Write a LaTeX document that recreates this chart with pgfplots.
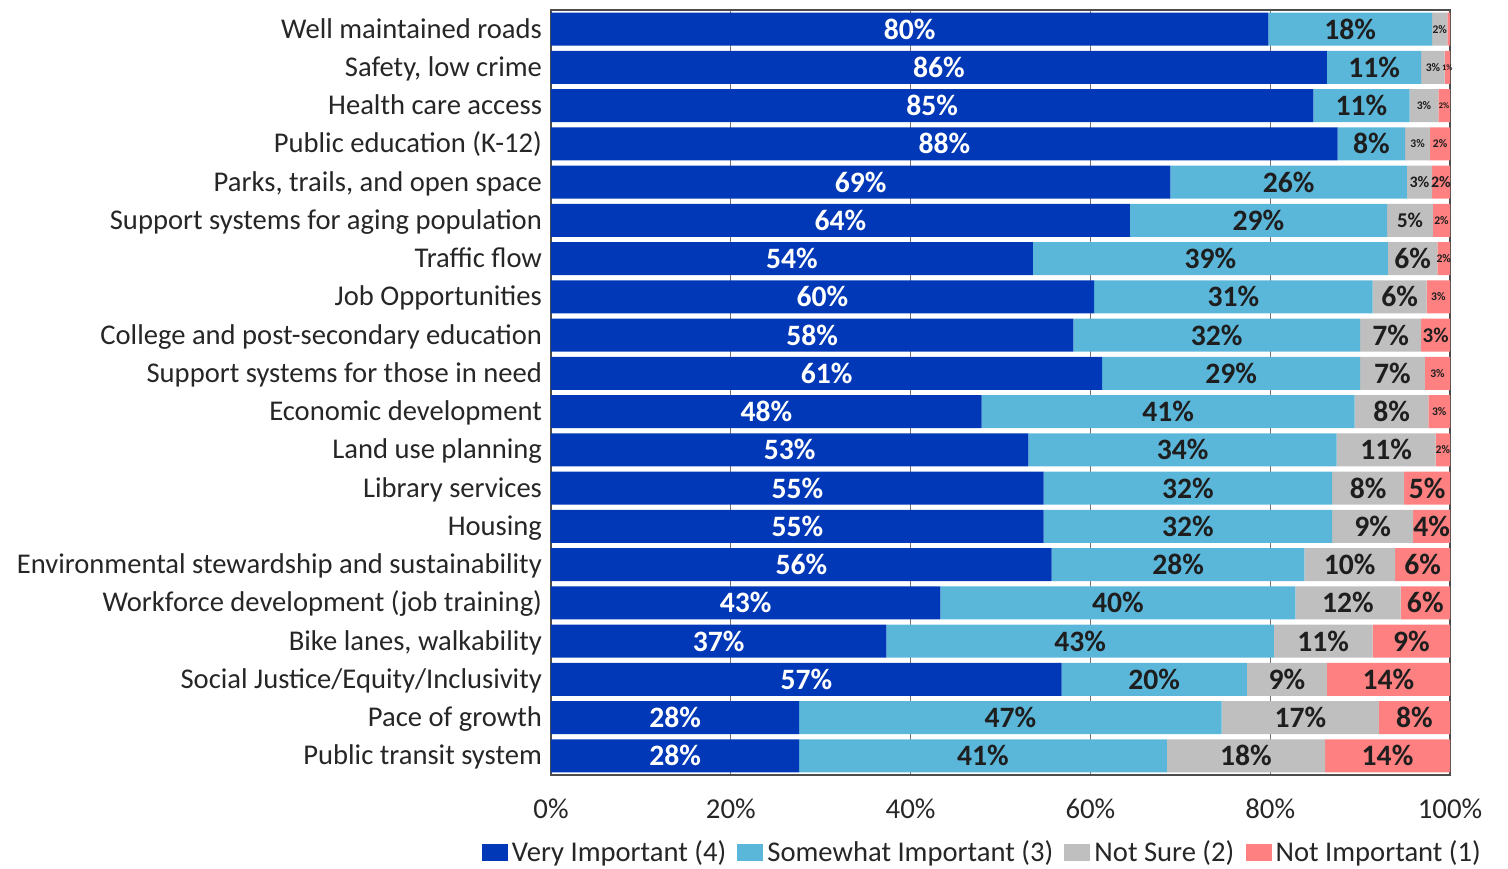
\documentclass[border=0pt]{standalone}
\usepackage{pgfplots}
\pgfplotsset{compat=1.18}
\usepackage{pgfplotstable}
\usepackage{fontspec}
\setmainfont{Carlito}
\usetikzlibrary{calc}
\definecolor{cA}{RGB}{0,56,184}
\definecolor{cB}{RGB}{91,183,218}
\definecolor{cC}{RGB}{191,191,191}
\definecolor{cD}{RGB}{255,128,128}
\definecolor{txt}{RGB}{30,30,30}
\newcommand\fn{\fontsize{14.8}{14.8}\selectfont}
\newcommand\fm{\fontsize{10.5}{10.5}\selectfont}
\newcommand\fs{\fontsize{8}{8}\selectfont}
\newcommand\ft{\fontsize{5.8}{5.8}\selectfont}
\newcommand\fu{\fontsize{4.2}{4.2}\selectfont}
\def\fh#1\%{}
\def\mylab#1{\expandafter\mylabi#1\relax}
\def\mylabi#1#2\relax{\csname f#1\endcsname #2\%}
\pgfplotstableread{
y a b c d la lb lc ld
0 79.8 18.2 1.7 0.3 n80 n18 t2 h0
1 86.3 10.5 2.6 0.6 n86 n11 t3 u1
2 84.8 10.7 3.2 1.3 n85 n11 t3 u2
3 87.5 7.5 2.8 2.2 n88 n8 t3 t2
4 68.9 26.3 2.8 2.0 n69 n26 s3 s2
5 64.4 28.6 5.1 1.9 n64 n29 m5 t2
6 53.6 39.5 5.5 1.4 n54 n39 n6 t2
7 60.4 31.0 6.0 2.6 n60 n31 n6 t3
8 58.1 31.9 6.8 3.2 n58 n32 n7 m3
9 61.3 28.7 7.2 2.8 n61 n29 n7 t3
10 47.9 41.5 8.2 2.4 n48 n41 n8 t3
11 53.1 34.3 11.0 1.6 n53 n34 n11 t2
12 54.8 32.1 8.0 5.1 n55 n32 n8 n5
13 54.8 32.1 9.0 4.1 n55 n32 n9 n4
14 55.7 28.1 10.1 6.1 n56 n28 n10 n6
15 43.3 39.5 11.7 5.5 n43 n40 n12 n6
16 37.3 43.1 11.0 8.6 n37 n43 n11 n9
17 56.8 20.6 8.9 13.7 n57 n20 n9 n14
18 27.6 47.0 17.5 7.9 n28 n47 n17 n8
19 27.6 40.9 17.6 13.9 n28 n41 n18 n14
}\data
\pgfplotsset{
  sq/.style={legend image code/.code={\fill[##1,draw=none] (0pt,-4.3pt) rectangle (13pt,4.3pt);}},
  seg/.style={draw=none, sq,
    point meta=explicit symbolic,
    nodes near coords={\mylab{\pgfplotspointmeta}},
    nodes near coords style={anchor=center, inner sep=0pt, font=\bfseries}},
}
\begin{document}
\begin{tikzpicture}
\begin{axis}[
  name=ax,
  xbar stacked,
  scale only axis,
  width=449.5pt, height=382.5pt,
  xmin=0, xmax=100,
  ymin=-0.5, ymax=19.5,
  y dir=reverse,
  bar width=16.5pt,
  axis line style={draw=black!70, line width=0.7pt},
  xmajorgrids, grid style={black!55, line width=0.5pt},
  major tick length=0pt,
  ytick={0,...,19},
  yticklabels={Well maintained roads, {Safety, low crime}, Health care access, Public education (K-12), {Parks, trails, and open space}, Support systems for aging population, Traffic flow, Job Opportunities, College and post-secondary education, Support systems for those in need, Economic development, Land use planning, Library services, Housing, Environmental stewardship and sustainability, Workforce development (job training), {Bike lanes, walkability}, Social Justice/Equity/Inclusivity, Pace of growth, Public transit system},
  yticklabel style={font=\fontsize{14.3}{14.3}\selectfont, text=black!85, xshift=-1pt, text height=11.5pt, text depth=2.5pt},
  xtick={0,20,40,60,80,100},
  xticklabels={0\%,20\%,40\%,60\%,80\%,100\%},
  xticklabel style={font=\fontsize{14.4}{14.4}\selectfont, text=black!85, yshift=-8.5pt},
  legend columns=4,
  legend style={draw=none, at={(0.481,-0.08)}, anchor=north, font=\fontsize{14.3}{14.3}\selectfont, text=black!85, column sep=0pt, inner sep=0pt,
    /tikz/every even column/.append style={column sep=3.6pt}},
  legend cell align=left,
]
\addplot[seg, fill=cA, nodes near coords style={text=white}] table[x=a,y=y,meta=la]{\data};
\addlegendentry{Very Important (4)}
\addplot[seg, fill=cB, nodes near coords style={text=txt}] table[x=b,y=y,meta=lb]{\data};
\addlegendentry{Somewhat Important (3)}
\addplot[seg, fill=cC, nodes near coords style={text=txt}] table[x=c,y=y,meta=lc]{\data};
\addlegendentry{Not Sure (2)}
\addplot[seg, fill=cD, nodes near coords style={text=txt}] table[x=d,y=y,meta=ld]{\data};
\addlegendentry{Not Important (1)}
\end{axis}
\pgfresetboundingbox
\path ($(ax.south west)+(-275.5pt,-47pt)$) rectangle ($(ax.north east)+(29pt,5pt)$);
\end{tikzpicture}
\end{document}
